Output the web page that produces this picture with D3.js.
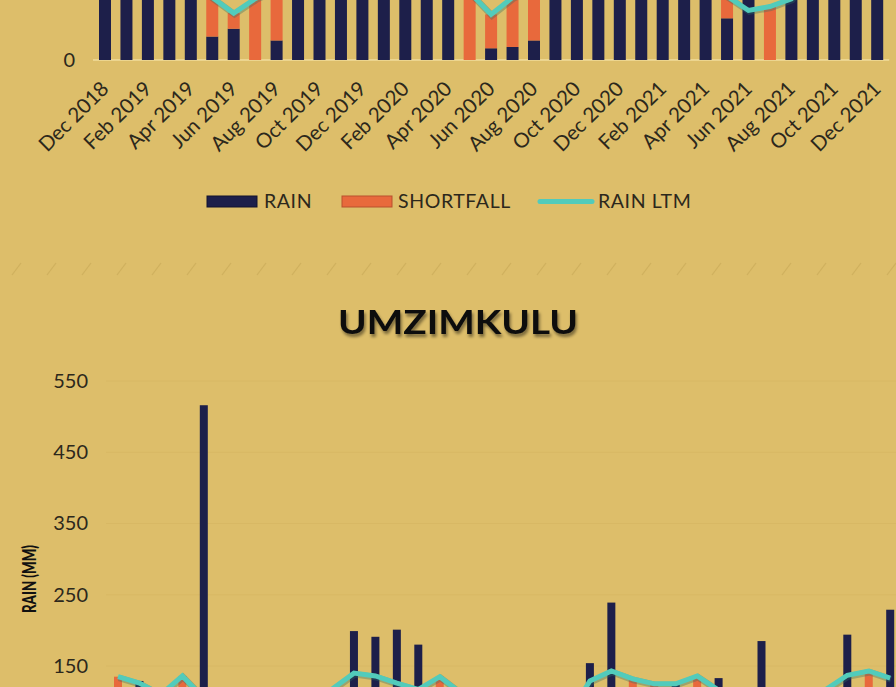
<!DOCTYPE html>
<html>
<head>
<meta charset="utf-8">
<script src="https://cdn.jsdelivr.net/npm/d3@7/dist/d3.min.js"></script>
<style>
  html, body { margin: 0; padding: 0; background: #ddbe6a; }
  svg { display: block; font-family: Lato, "Open Sans", sans-serif; }
</style>
</head>
<body>
<svg id="chart" width="896" height="687"></svg>
<script>
// months shared by both panels
const months = [
  "Dec 2018", "Jan 2019", "Feb 2019", "Mar 2019", "Apr 2019", "May 2019", "Jun 2019",
  "Jul 2019", "Aug 2019", "Sep 2019", "Oct 2019", "Nov 2019", "Dec 2019",
  "Jan 2020", "Feb 2020", "Mar 2020", "Apr 2020", "May 2020", "Jun 2020",
  "Jul 2020", "Aug 2020", "Sep 2020", "Oct 2020", "Nov 2020", "Dec 2020",
  "Jan 2021", "Feb 2021", "Mar 2021", "Apr 2021", "May 2021", "Jun 2021",
  "Jul 2021", "Aug 2021", "Sep 2021", "Oct 2021", "Nov 2021", "Dec 2021"
];

// upper panel (only its lower strip is in view)
const topRain      = [120, 150, 110, 95, 70, 18, 24, 0, 15, 75, 110, 140, 160,
                      170, 130, 120, 80, 0, 9, 10, 15, 90, 120, 150, 180,
                      200, 140, 110, 75, 32, 55, 0, 60, 80, 100, 130, 150];
const topShortfall = [0, 0, 5, 5, 0, 30, 12, 47, 40, 0, 0, 0, 0,
                      0, 0, 0, 0, 52, 26, 38, 41, 0, 0, 0, 0,
                      0, 0, 0, 0, 17, 0, 41, 0, 0, 0, 0, 0];
const topLtm       = [125, 130, 115, 100, 62, 48, 36, 47, 55, 65, 85, 105, 125,
                      130, 115, 100, 62, 52, 35, 48, 56, 65, 85, 105, 125,
                      130, 115, 100, 62, 49, 38, 41, 47, 65, 85, 105, 125];
const topTicks     = [0];

// lower panel: UMZIMKULU
const botRain      = [90, 129, 95, 80, 516, 60, 20, 10, 25, 50, 100, 199, 191,
                      201, 180, 90, 70, 40, 15, 10, 30, 60, 154, 239, 110,
                      100, 126, 95, 133, 45, 185, 10, 30, 60, 194, 120, 229];
const botShortfall = [45, 0, 15, 56, 0, 20, 25, 30, 25, 25, 18, 0, 0,
                      0, 0, 45, 42, 35, 30, 32, 22, 20, 0, 0, 22,
                      25, 0, 41, 0, 30, 0, 32, 25, 57, 0, 23, 0];
const botLtm       = [135, 126, 110, 136, 105, 80, 45, 40, 50, 75, 118, 140, 136,
                      126, 117, 135, 112, 75, 45, 42, 52, 80, 129, 143, 132,
                      125, 125, 136, 116, 75, 45, 42, 55, 117, 137, 143, 133];
const botTicks     = [150, 250, 350, 450, 550];

const legendLabels = ["RAIN", "SHORTFALL", "RAIN LTM"];

const navy = "#1d1f4a", orange = "#e8693c", teal = "#52cbbb", ink = "#2c281c";

const svg = d3.select("#chart");

svg.append("rect").attr("width", 896).attr("height", 687).attr("fill", "#ddbe6a");

let defs = svg.append("defs");
defs.append("filter").attr("id", "shadow")
  .attr("x", "-10%").attr("y", "-20%").attr("width", "130%").attr("height", "160%")
  .append("feDropShadow")
  .attr("dx", 1.5).attr("dy", 3).attr("stdDeviation", 1.6)
  .attr("flood-color", "#000").attr("flood-opacity", 0.45);

function drawPanel(opts) {
  let x = d3.scalePoint().domain(months).range(opts.xRange),
      y = d3.scaleLinear().domain(opts.yDomain).range(opts.yRange),
      g = svg.append("g");

  // gridlines
  g.append("g").selectAll("line")
    .data(opts.ticks)
    .join("line")
    .attr("x1", opts.xRange[0] - 12).attr("x2", opts.xRange[1] + 12)
    .attr("y1", d => y(d)).attr("y2", d => y(d))
    .attr("stroke", d => d === 0 ? "#f1dc9c" : "#d8b864")
    .attr("stroke-width", d => d === 0 ? 1.5 : 1);

  // y axis labels
  let yAxis = d3.axisLeft(y).tickValues(opts.ticks).tickSize(0).tickPadding(0);
  g.append("g")
    .attr("transform", "translate(" + opts.axisX + ",0)")
    .call(yAxis)
    .attr("font-family", null)
    .call(a => a.select(".domain").remove())
    .selectAll("text")
    .attr("font-size", 20).attr("fill", ink);

  // stacked bars
  let bw = opts.barWidth;
  g.append("g").selectAll("rect")
    .data(months)
    .join("rect")
    .attr("x", d => x(d) - bw / 2)
    .attr("width", bw)
    .attr("y", (d, i) => y(opts.rain[i]))
    .attr("height", (d, i) => y(0) - y(opts.rain[i]))
    .attr("fill", navy);

  g.append("g").selectAll("rect")
    .data(months)
    .join("rect")
    .attr("x", d => x(d) - bw / 2)
    .attr("width", bw)
    .attr("y", (d, i) => y(opts.rain[i] + opts.shortfall[i]))
    .attr("height", (d, i) => y(opts.rain[i]) - y(opts.rain[i] + opts.shortfall[i]))
    .attr("fill", orange);

  // LTM line
  let line = d3.line()
    .x((d, i) => x(months[i]))
    .y(d => y(d));

  g.append("path")
    .datum(opts.ltm)
    .attr("d", line)
    .attr("fill", "none")
    .attr("stroke", "#2f6f66").attr("stroke-opacity", 0.35)
    .attr("stroke-width", 6.5)
    .attr("transform", "translate(0.8,1.2)");

  g.append("path")
    .datum(opts.ltm)
    .attr("d", line)
    .attr("fill", "none")
    .attr("stroke", teal)
    .attr("stroke-width", 5)
    .attr("stroke-linejoin", "miter");

  return {x: x, y: y, g: g};
}

// upper panel
let upper = drawPanel({
  xRange: [105, 877.2],
  yDomain: [0, 300], yRange: [60, 60 - 391],
  ticks: topTicks, axisX: 75,
  barWidth: 12,
  rain: topRain, shortfall: topShortfall, ltm: topLtm
});

upper.g.append("g").selectAll("text")
  .data(months.filter((d, i) => i % 2 === 0))
  .join("text")
  .attr("transform", d => "translate(" + (upper.x(d) + 5) + ",90) rotate(-45)")
  .attr("text-anchor", "end")
  .attr("font-size", 20.5)
  .attr("fill", ink)
  .text(d => d);

// legend
let legend = svg.append("g").attr("font-size", 19.5).attr("letter-spacing", 0.6).attr("fill", ink);
legend.append("rect").attr("x", 207).attr("y", 196).attr("width", 50).attr("height", 11)
  .attr("fill", navy).attr("stroke", "#12132e");
legend.append("rect").attr("x", 342).attr("y", 196).attr("width", 50).attr("height", 11)
  .attr("fill", orange).attr("stroke", "#b9502c");
legend.append("line").attr("x1", 540).attr("x2", 592).attr("y1", 201.5).attr("y2", 201.5)
  .attr("stroke", teal).attr("stroke-width", 5).attr("stroke-linecap", "round");
legend.selectAll("text")
  .data(legendLabels)
  .join("text")
  .attr("x", (d, i) => [264, 398, 598][i])
  .attr("y", 208)
  .text(d => d);

// faint divider between panels
svg.append("g").selectAll("line")
  .data(d3.range(12, 896, 35))
  .join("line")
  .attr("x1", d => d).attr("x2", d => d + 9)
  .attr("y1", 275).attr("y2", 263)
  .attr("stroke", "#c9aa58").attr("stroke-opacity", 0.7).attr("stroke-width", 1.2);

// title
svg.append("text")
  .attr("x", 458).attr("y", 334)
  .attr("text-anchor", "middle")
  .attr("font-size", 33).attr("font-weight", 700)
  .attr("textLength", 240).attr("lengthAdjust", "spacingAndGlyphs")
  .attr("fill", "#111")
  .attr("filter", "url(#shadow)")
  .text("UMZIMKULU");

// lower panel
let lower = drawPanel({
  xRange: [118, 890.2],
  yDomain: [-50, 550], yRange: [381 + 600 * 0.7125, 381],
  ticks: botTicks, axisX: 88,
  barWidth: 8,
  rain: botRain, shortfall: botShortfall, ltm: botLtm
});

svg.append("text")
  .attr("transform", "translate(36,579) rotate(-90)")
  .attr("text-anchor", "middle")
  .attr("font-size", 18.5).attr("font-weight", 900)
  .attr("textLength", 68).attr("lengthAdjust", "spacingAndGlyphs")
  .attr("fill", "#111")
  .text("RAIN (MM)");
</script>
</body>
</html>
